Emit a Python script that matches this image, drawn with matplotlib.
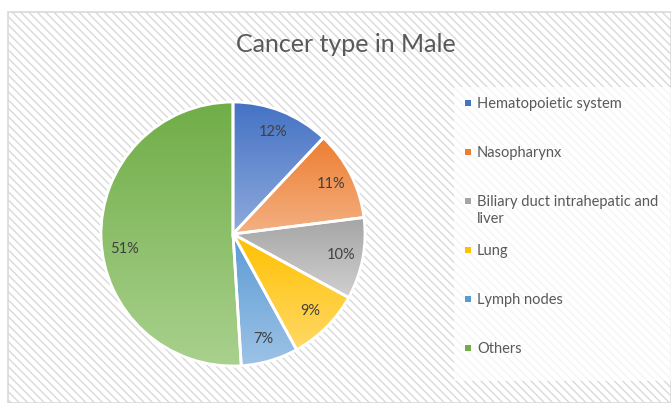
import numpy as np
import matplotlib
matplotlib.use("Agg")
from matplotlib import pyplot as plt
from matplotlib.patches import Rectangle
from matplotlib.colors import to_rgb

categories = ["Hematopoietic system", "Nasopharynx", "Biliary duct intrahepatic and\nliver",
              "Lung", "Lymph nodes", "Others"]
shares = [12, 11, 10, 9, 7, 51]
dark_colors = ["#4472C4", "#ED7D31", "#A5A5A5", "#FFC000", "#5B9BD5", "#70AD47"]
light_colors = ["#8FAADC", "#F4B183", "#D0D0D0", "#FFD966", "#9DC3E6", "#A9D18E"]

W, H = 671, 403
plt.rcParams["font.family"] = ["Lato", "DejaVu Sans"]
plt.rcParams["hatch.linewidth"] = 1.0
plt.rcParams["hatch.color"] = "#EAEAEA"

fig = plt.figure(figsize=(W / 100, H / 100), dpi=100)
fig.patch.set_facecolor("white")

# chart area with diagonal hatching
bg = Rectangle((8 / W, 0), 1 - 8 / W, 1 - 12 / H, transform=fig.transFigure,
               facecolor="white", edgecolor="#D9D9D9", hatch="\\\\\\\\", linewidth=1.2, zorder=-2)
fig.patches.append(bg)

fig.text(346 / W, 1 - 45 / H, "Cancer type in Male", ha="center", va="center",
         fontsize=18, color="#595959")

# pie
cx, cy, r = 233, 234, 132
ax = fig.add_axes([(cx - r) / W, (H - cy - r) / H, 2 * r / W, 2 * r / H])
ax.set_zorder(2)
ax.axis("off")

wedges, texts, autotexts = ax.pie(shares, startangle=90, counterclock=False, radius=1,
                                  autopct="%1.0f%%", pctdistance=0.83,
                                  wedgeprops={"edgecolor": "white", "linewidth": 2, "facecolor": "none"},
                                  textprops={"fontsize": 10.5, "color": "#404040"})

for w, c0, c1 in zip(wedges, dark_colors, light_colors):
    w.set_zorder(3)
    ext = w.get_path().get_extents()
    a = np.array(to_rgb(c0))
    b = np.array(to_rgb(c1))
    t = np.linspace(0, 1, 256)[:, None]
    grad = (a[None, :] * (1 - t) + b[None, :] * t)[:, None, :]
    im = ax.imshow(grad, extent=[ext.x0, ext.x1, ext.y0, ext.y1], origin="upper",
                   aspect="auto", zorder=2, interpolation="bilinear")
    im.set_clip_path(w)

ax.set_xlim(-1.0, 1.0)
ax.set_ylim(-1.0, 1.0)
ax.set_aspect("equal")

for t in autotexts:
    t.set_zorder(5)
# Excel places the big slice label a bit lower
ang = np.deg2rad(188)
autotexts[-1].set_position((0.83 * np.cos(ang), 0.83 * np.sin(ang)))

# legend box
lx0, ly0, lx1, ly1 = 454, 87, 671, 381
fig.patches.append(Rectangle((lx0 / W, 1 - ly1 / H), (lx1 - lx0) / W, (ly1 - ly0) / H,
                             transform=fig.transFigure, facecolor="white", alpha=0.75,
                             edgecolor="none", zorder=1))
step = 49
for i, (lab, c) in enumerate(zip(categories, dark_colors)):
    y = 103 + i * step
    fig.patches.append(Rectangle((465 / W, 1 - (y + 3) / H), 6 / W, 6 / H,
                                 transform=fig.transFigure, facecolor=c, edgecolor="none", zorder=2))
    fig.text(477 / W, 1 - (y - 6) / H, lab, ha="left", va="top", fontsize=10.5,
             color="#595959", linespacing=1.3, zorder=3)

fig.savefig("out.png", dpi=100)
